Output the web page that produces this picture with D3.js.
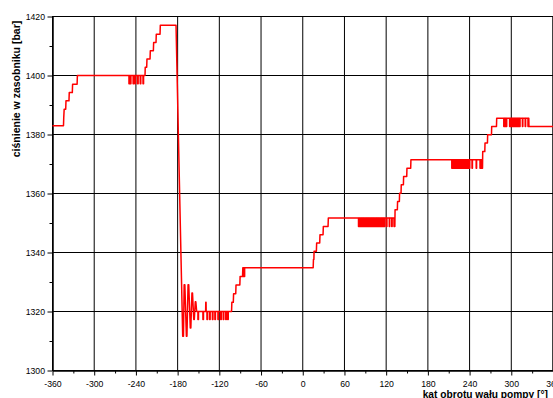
<!DOCTYPE html>
<html><head><meta charset="utf-8">
<script src="https://cdn.jsdelivr.net/npm/d3@7"></script>
<style>html,body{margin:0;padding:0;background:#fff;overflow:hidden}</style>
</head><body><svg id="c" width="553" height="398"></svg>
<script>
// ---- data ----
const xTicks = [-360,-300,-240,-180,-120,-60,0,60,120,180,240,300,360];
const xMinor = [-330,-270,-210,-150,-90,-30,30,90,150,210,270,330];
const yTicks = [1300,1320,1340,1360,1380,1400,1420];
const yMinor = [1310,1330,1350,1370,1390,1410];
const xTitle = "kąt obrotu wału pompy [°]";
const yTitle = "ciśnienie w zasobniku [bar]";

// main trace knots [angle deg, pressure bar]
const trace = [
  [-360,1383],[-344.2,1383],[-343.8,1385.8],[-343.2,1388.6],[-341,1388.6],[-340.6,1391.4],
  [-336.3,1391.4],[-335.9,1394.2],[-331.5,1394.2],[-331.1,1397],[-324.6,1397],[-324.2,1400],
  [-226.9,1400],[-226.6,1402.8],[-224.5,1402.8],[-224.1,1405.6],[-219.7,1405.6],[-219.3,1408.4],
  [-214.9,1408.4],[-214.5,1411.2],[-211.1,1411.2],[-210.7,1414],[-205.3,1414],[-204.9,1417],
  [-182.3,1417],
  [-172.7,1311.6],[-171.6,1311.6],[-170.6,1329.1],[-169.6,1329.1],[-167.4,1311.6],[-166.6,1311.6],
  [-165.0,1329.1],[-164.0,1329.1],[-161.8,1314.4],[-161.0,1314.4],[-159.4,1326.3],[-158.6,1326.3],
  [-156.8,1317.3],[-156.0,1317.3],[-154.6,1323.3],[-153.8,1323.3],[-152.6,1320],
  [-139.7,1320],[-139.5,1323.1],[-139.1,1323.1],[-138.9,1320],
  [-102.4,1320],[-102.0,1323.1],[-99.9,1323.1],[-99.5,1326],[-96.4,1326],[-96.0,1329],
  [-90.5,1329],[-90.1,1331.9],[-86.6,1331.9],[-86.2,1334.8],
  [15.0,1334.8],[15.4,1337.6],[16.0,1337.6],[16.3,1340.4],[19.6,1340.4],[20.0,1343.2],
  [24.4,1343.2],[24.8,1346],[29.2,1346],[29.6,1348.8],[36.4,1348.8],[36.8,1351.7],
  [131.2,1351.7],[131.3,1348.8],[132.5,1348.8],[132.8,1354.5],[136.1,1354.5],[136.4,1357.3],
  [139,1357.3],[139.3,1360.1],[141.4,1360.1],[141.7,1363],[144.8,1363],[145.1,1365.8],
  [149.6,1365.8],[149.9,1368.6],[155.3,1368.6],[155.6,1371.4],
  [257.1,1371.4],[257.2,1368.6],[258.6,1368.6],[258.9,1374.2],[261.9,1374.2],[262.2,1377.1],
  [265.7,1377.1],[266,1379.9],[271.5,1379.9],[271.8,1382.7],[278.7,1382.7],[279,1385.5],
  [325.2,1385.5],[325.4,1382.7],[360,1382.7]
];

// short dips (start angles) on the flat parts
const dips1400 = [-250,-248,-244,-241.4,-237.6,-233.8,-229.8];
const dips1320 = [-150.8,-143.6,-137.8,-134.0,-130.0,-126.4,-122.0,-118.0,-114.4,-110.8,-108.0];
const dips1335 = [-85.6,-84.2];
const dips1352 = [80.2,81.4,82.6,83.8,85.0,86.2,87.4,88.6,89.8,91.0,92.2,93.4,94.6,95.8,97.0,98.2,
  99.4,100.6,101.8,103.0,104.2,105.4,106.6,107.8,109.0,110.2,111.4,112.6,113.8,115.0,116.2,117.4,
  120.5,124.5,128.0];
const dips1371 = [214.4,215.6,216.8,218.0,219.2,220.4,221.6,222.8,224.0,225.2,226.4,227.6,228.8,
  230.0,231.2,232.4,233.6,234.8,236.0,237.2,238.4,239.6,243.5,249.5,255.0];
const dips1385 = [289.2,290.4,291.6,292.8,297.6,298.8,300.0,301.2,302.4,303.6,304.8,306.0,307.2,
  308.4,309.6,310.8,312.0,316.0,320.0,324.0];

const dipSets = [
  {at: dips1400, hi: 1400,   lo: 1397.2, w: 0.8},
  {at: dips1320, hi: 1320,   lo: 1317.3, w: 0.8},
  {at: dips1335, hi: 1334.8, lo: 1331.9, w: 0.6},
  {at: dips1352, hi: 1351.7, lo: 1348.8, w: 0.6},
  {at: dips1371, hi: 1371.4, lo: 1368.6, w: 0.6},
  {at: dips1385, hi: 1385.5, lo: 1382.7, w: 0.6}
];

// ---- drawing ----
const svg = d3.select("#c");
const x = d3.scaleLinear().domain([-360,360]).range([52.5,553]);
const y = d3.scaleLinear().domain([1300,1420]).range([370.5,16.5]);
const font = "'Liberation Sans', Arial, Helvetica, sans-serif";
const fmt = d => String(d);

// grid
const g = svg.append("g");
g.selectAll("line.vx").data(xTicks).join("line")
  .attr("x1", d=>x(d)).attr("x2", d=>x(d)).attr("y1", y(1300)).attr("y2", y(1420))
  .attr("stroke", "#000").attr("stroke-width", 1);
g.selectAll("line.hy").data(yTicks).join("line")
  .attr("x1", x(-360)).attr("x2", x(360)).attr("y1", d=>y(d)).attr("y2", d=>y(d))
  .attr("stroke", "#000").attr("stroke-width", 1);

// axes
const ax = svg.append("g").attr("transform", `translate(0,${y(1300)})`)
  .call(d3.axisBottom(x).tickValues(xTicks).tickSize(5).tickSizeOuter(0).tickPadding(5.8).tickFormat(fmt));
const axm = svg.append("g").attr("transform", `translate(0,${y(1300)})`)
  .call(d3.axisBottom(x).tickValues(xMinor).tickSize(3).tickSizeOuter(0).tickFormat(""));
const ay = svg.append("g").attr("transform", `translate(${x(-360)},0)`)
  .call(d3.axisLeft(y).tickValues(yTicks).tickSize(5).tickSizeOuter(0).tickPadding(2.5).tickFormat(fmt));
const aym = svg.append("g").attr("transform", `translate(${x(-360)},0)`)
  .call(d3.axisLeft(y).tickValues(yMinor).tickSize(3).tickSizeOuter(0).tickFormat(""));
[ax,axm,ay,aym].forEach(a=>{
  a.select(".domain").attr("stroke","#000");
  a.selectAll(".tick line").attr("stroke","#000");
  a.selectAll("text").attr("font-family", font).attr("font-size", "8.7px").attr("fill","#000");
});

// frame
svg.append("rect").attr("x", x(-360)).attr("y", y(1420))
  .attr("width", x(360)-x(-360)).attr("height", y(1300)-y(1420))
  .attr("fill","none").attr("stroke","#000").attr("stroke-width",1);

// line data
let pts = trace.map(d=>d.slice());
dipSets.forEach(s=>{
  s.at.forEach(a=>{
    pts.push([a,s.hi],[a,s.lo],[a+s.w,s.lo],[a+s.w,s.hi]);
  });
});
pts.sort((a,b)=>a[0]-b[0]);

const line = d3.line().x(d=>x(d[0])).y(d=>y(d[1]));
svg.append("path").datum(pts).attr("d", line)
  .attr("fill","none").attr("stroke","#ff0000").attr("stroke-width",1.5)
  .attr("stroke-linejoin","round");

// titles
svg.append("text").attr("x", 422.7).attr("y", 397.5)
  .attr("font-family", font).attr("font-weight","bold").attr("font-size","10.2px")
  .text(xTitle);
svg.append("text").attr("transform","translate(20,89) rotate(-90)")
  .attr("text-anchor","middle")
  .attr("font-family", font).attr("font-weight","bold").attr("font-size","10.5px")
  .text(yTitle);
</script>
</body></html>
